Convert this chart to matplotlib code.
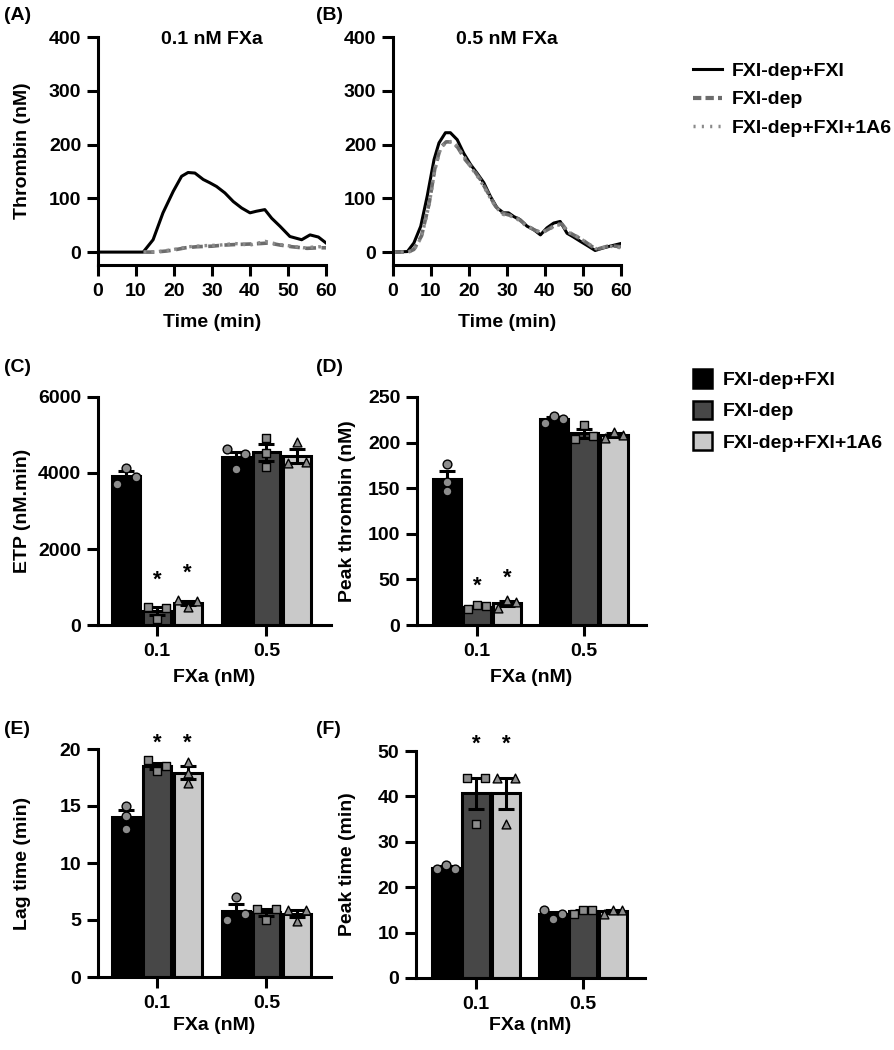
import numpy as np
import matplotlib
matplotlib.use('Agg')
import matplotlib.pyplot as plt
from matplotlib.lines import Line2D
from matplotlib.patches import Patch

plt.rcParams['font.family'] = ['Liberation Sans', 'DejaVu Sans']
plt.rcParams['font.weight'] = 'bold'
plt.rcParams['axes.labelweight'] = 'bold'

# ---- data: thrombin generation curves ----
groups = ['FXI-dep+FXI', 'FXI-dep', 'FXI-dep+FXI+1A6']

a_t_full = [0, 11.9, 14.5, 17.1, 19.8, 22.0, 23.7, 25.5, 27.7, 29.4, 31.2, 33.4, 35.6, 37.8,
            40.0, 41.7, 43.9, 45.7, 47.9, 50.5, 53.6, 55.8, 58.0, 60.0]
a_full = [0, 0, 23, 73, 113, 141, 148, 147, 135, 129, 122, 110, 94, 82,
          73, 76, 79, 63, 48, 29, 23, 32, 28, 17]
a_t_dep = [12, 15, 18, 20, 23, 26, 30, 33, 36, 40, 43, 45, 48, 51, 55, 58, 60]
a_dep = [0, 0, 2, 4, 8, 10, 11, 13, 14, 15, 16, 17, 13, 10, 7, 8, 8]
a_t_1a6 = [12, 16, 20, 24, 28, 32, 36, 40, 44, 47, 50, 54, 58, 60]
a_1a6 = [0, 1, 5, 10, 12, 13, 16, 13, 20, 15, 12, 8, 10, 9]

b_t_full = [0, 3.8, 5.5, 7.3, 9.0, 10.8, 12.1, 13.8, 15.1, 16.9, 18.6, 20.4, 22.1, 23.9,
            25.6, 27.4, 29.1, 30.4, 31.8, 33.5, 35.3, 37.0, 38.8, 40.5, 42.3, 44.0,
            45.8, 47.5, 49.3, 51.4, 53.2, 55.0, 57.1, 60.0]
b_full = [0, 1, 17, 48, 104, 172, 203, 222, 222, 209, 184, 163, 147, 129,
          104, 82, 73, 73, 66, 60, 48, 42, 32, 45, 54, 57,
          35, 28, 20, 11, 3, 7, 11, 16]
b_t_dep = [0, 4, 5.5, 7.5, 9.5, 11, 12.5, 14, 15.5, 17, 19, 21, 23, 25, 27, 29, 31, 33,
           35, 37, 39, 41, 43, 44.5, 46, 48, 50, 52, 53.5, 55, 57, 60]
b_dep = [0, 0, 5, 30, 90, 155, 195, 205, 205, 195, 172, 155, 135, 110, 85, 72, 68, 62,
         50, 42, 35, 43, 52, 52, 38, 30, 22, 12, 5, 8, 12, 10]
b_t_1a6 = [0, 4, 5.5, 7.5, 9.5, 11, 12.5, 14, 15.5, 17, 19, 21, 23, 25, 27, 29, 31, 33,
           35, 37, 39, 41, 43, 44.5, 46, 48, 50, 52, 53.5, 55, 57, 60]
b_1a6 = [0, 0, 4, 28, 88, 152, 193, 204, 206, 196, 174, 153, 133, 108, 84, 70, 67, 60,
         49, 43, 36, 42, 50, 51, 37, 31, 22, 13, 6, 8, 11, 8]

# ---- data: bar panels, replicates per FXa level (0.1, 0.5) ----
fxa_labels = ['0.1', '0.5']
etp = {
    'FXI-dep+FXI': [[3700, 4140, 3900], [4620, 4115, 4490]],
    'FXI-dep': [[480, 150, 460], [4930, 4530, 4160]],
    'FXI-dep+FXI+1A6': [[650, 470, 620], [4250, 4820, 4290]],
}
peak = {
    'FXI-dep+FXI': [[177, 157, 147], [222, 229, 226]],
    'FXI-dep': [[18, 21.5, 21], [204, 219, 207]],
    'FXI-dep+FXI+1A6': [[19, 27, 25.5], [205.5, 212, 208]],
}
lag = {
    'FXI-dep+FXI': [[15.0, 14.1, 13.0], [5.0, 7.0, 5.5]],
    'FXI-dep': [[19.0, 18.1, 18.5], [6.0, 5.0, 6.0]],
    'FXI-dep+FXI+1A6': [[18.9, 17.9, 17.0], [5.9, 4.9, 5.9]],
}
ptime = {
    'FXI-dep+FXI': [[23.9, 25.0, 23.9], [15.0, 13.0, 14.0]],
    'FXI-dep': [[44, 34, 44], [14, 15, 15]],
    'FXI-dep+FXI+1A6': [[44, 34, 44], [14, 15, 15]],
}
# asterisk heights (0.1 nM group only)
etp_stars = {'FXI-dep': 1180, 'FXI-dep+FXI+1A6': 1360}
peak_stars = {'FXI-dep': 43, 'FXI-dep+FXI+1A6': 51}
lag_stars = {'FXI-dep': 20.5, 'FXI-dep+FXI+1A6': 20.5}
ptime_stars = {'FXI-dep': 51.4, 'FXI-dep+FXI+1A6': 51.4}

bar_colors = {'FXI-dep+FXI': '#000000', 'FXI-dep': '#474747', 'FXI-dep+FXI+1A6': '#c9c9c9'}
markers = {'FXI-dep+FXI': 'o', 'FXI-dep': 's', 'FXI-dep+FXI+1A6': '^'}

W, H = 895, 1050
FS = 14
fig = plt.figure(figsize=(W / 100, H / 100), dpi=100)


def add_ax(x0, x1, ytop, ybot):
    ax = fig.add_axes([x0 / W, 1 - ybot / H, (x1 - x0) / W, (ybot - ytop) / H])
    ax._px = (x0, x1, ytop, ybot)
    return ax


def style(ax):
    ax.spines['top'].set_visible(False)
    ax.spines['right'].set_visible(False)
    for s in ['left', 'bottom']:
        ax.spines[s].set_linewidth(2.2)
    ax.tick_params(direction='out', length=8, width=2.2, labelsize=FS)
    ax.tick_params(axis='x', pad=5)
    ax.tick_params(axis='y', pad=4)


def place_labels(ax, ylabel_right_px, xlabel_top_px):
    x0, x1, ytop, ybot = ax._px
    ax.yaxis.set_label_coords((ylabel_right_px - x0) / (x1 - x0), 0.5)
    ax.xaxis.set_label_coords(0.5, -(xlabel_top_px - ybot) / (ybot - ytop))


def curve_panel(ax, data, title):
    ax.plot(data[0][0], data[0][1], color='black', lw=2.2)
    ax.plot(data[1][0], data[1][1], color='#6c6c6c', lw=2.6, ls=(0, (3, 1.5)))
    ax.plot(data[2][0], data[2][1], color='#8a8a8a', lw=2.4, ls=(0, (0.8, 1.5)))
    ax.set_xlim(0, 60)
    ax.set_ylim(-24, 400)
    ax.set_xticks(range(0, 61, 10))
    ax.set_yticks(range(0, 401, 100))
    ax.set_xlabel('Time (min)', fontsize=FS)
    ax.text(0.5, 0.987, title, transform=ax.transAxes, ha='center', va='center',
            fontsize=FS, fontweight='bold')
    style(ax)


def bar_panel(ax, data, ymax, step, ylabel, stars):
    width = 0.255
    spacing = 0.28
    for gi, g in enumerate(groups):
        for k in range(len(fxa_labels)):
            vals = np.array(data[g][k], dtype=float)
            m = vals.mean()
            sem = vals.std(ddof=1) / np.sqrt(len(vals))
            xc = k + (gi - 1) * spacing
            ax.bar(xc, m, width=width, color=bar_colors[g], edgecolor='black', lw=2.2, zorder=2)
            ax.errorbar(xc, m, yerr=sem, color='black', lw=2.2, capsize=6, capthick=2.2, zorder=3)
            d = np.abs(vals[:, None] - vals[None, :])
            d[np.eye(len(vals), dtype=bool)] = np.inf
            if d.min() < 0.035 * ymax:
                offs = np.array([-0.33, 0, 0.33]) * width
            else:
                offs = np.zeros(len(vals))
            ax.scatter(xc + offs, vals, marker=markers[g], s=40, color='#8c8c8c',
                       edgecolor='black', lw=1, zorder=4, clip_on=False)
            if k == 0 and g in stars:
                ax.text(xc, stars[g], '*', ha='center', va='center', fontsize=16,
                        fontweight='bold')
    ax.set_xticks(range(len(fxa_labels)))
    ax.set_xticklabels(fxa_labels)
    ax.set_ylim(0, ymax)
    ax.set_yticks(np.arange(0, ymax + 1, step))
    ax.set_ylabel(ylabel, fontsize=FS)
    ax.set_xlabel('FXa (nM)', fontsize=FS)
    style(ax)


# (A) and (B)
axA = add_ax(98, 326, 37, 265)
curve_panel(axA, [(a_t_full, a_full), (a_t_dep, a_dep), (a_t_1a6, a_1a6)], '0.1 nM FXa')
axA.set_ylabel('Thrombin (nM)', fontsize=FS)
place_labels(axA, 31, 314)
axB = add_ax(393, 621, 37, 265)
curve_panel(axB, [(b_t_full, b_full), (b_t_dep, b_dep), (b_t_1a6, b_1a6)], '0.5 nM FXa')
place_labels(axB, 356, 314)

line_handles = [Line2D([], [], color='black', lw=2.2),
                Line2D([], [], color='#6c6c6c', lw=3, ls=(0, (2, 1))),
                Line2D([], [], color='#8a8a8a', lw=2.5, ls=(0, (0.6, 1.8)))]
fig.legend(line_handles, groups, loc='upper left', bbox_to_anchor=(675 / W, 1 - 45 / H),
           frameon=False, fontsize=FS, handlelength=1.5, handletextpad=0.5,
           labelspacing=0.55)

# (C) and (D)
axC = add_ax(98, 331, 397, 625)
axC.set_xlim(-0.54, 1.59)
bar_panel(axC, etp, 6000, 2000, 'ETP (nM.min)', etp_stars)
place_labels(axC, 31, 669)
axD = add_ax(417, 646, 397, 625)
axD.set_xlim(-0.56, 1.58)
bar_panel(axD, peak, 250, 50, 'Peak thrombin (nM)', peak_stars)
place_labels(axD, 356, 669)

bar_handles = [Patch(facecolor=bar_colors[g], edgecolor='black', lw=1.8) for g in groups]
fig.legend(bar_handles, groups, loc='upper left', bbox_to_anchor=(676 / W, 1 - 352 / H),
           frameon=False, fontsize=FS, handlelength=0.95, handleheight=1.05,
           labelspacing=0.6, handletextpad=0.55)

# (E) and (F)
axE = add_ax(98, 331, 749, 977)
axE.set_xlim(-0.54, 1.59)
bar_panel(axE, lag, 20, 5, 'Lag time (min)', lag_stars)
place_labels(axE, 31, 1017)
axF = add_ax(416, 645, 751, 978)
axF.set_xlim(-0.56, 1.58)
bar_panel(axF, ptime, 50, 10, 'Peak time (min)', ptime_stars)
place_labels(axF, 356, 1017)

for lab, (x, y) in zip(['(A)', '(B)', '(C)', '(D)', '(E)', '(F)'],
                       [(4, 16), (316, 16), (4, 367), (316, 367), (4, 729), (316, 729)]):
    fig.text(x / W, 1 - y / H, lab, fontsize=FS, fontweight='bold', va='center')

fig.savefig('out.png', dpi=100)
